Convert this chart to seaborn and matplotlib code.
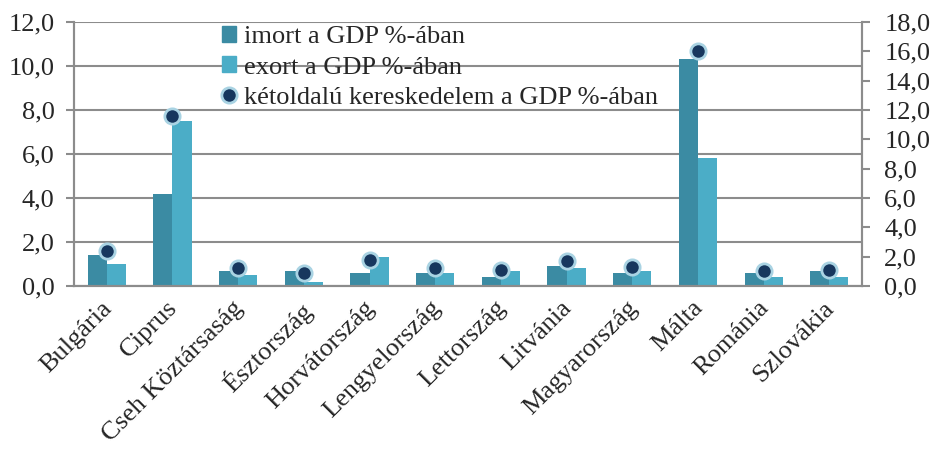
import numpy as np
import pandas as pd
from matplotlib import pyplot as plt
from matplotlib.ticker import FuncFormatter, FixedLocator
from matplotlib.transforms import ScaledTranslation
from matplotlib.lines import Line2D
from matplotlib.patches import Patch
import seaborn as sns

countries = ['Bulgária', 'Ciprus', 'Cseh Köztársaság', 'Észtország', 'Horvátország',
             'Lengyelország', 'Lettország', 'Litvánia', 'Magyarország', 'Málta',
             'Románia', 'Szlovákia']
import_gdp = [1.4, 4.2, 0.7, 0.7, 0.6, 0.6, 0.4, 0.9, 0.6, 10.3, 0.6, 0.7]
export_gdp = [1.0, 7.5, 0.5, 0.2, 1.3, 0.6, 0.7, 0.8, 0.7, 5.8, 0.4, 0.4]
bilateral_gdp = [2.4, 11.6, 1.2, 0.9, 1.8, 1.2, 1.1, 1.7, 1.3, 16.0, 1.0, 1.1]

lab_imp = 'imort a GDP %-ában'
lab_exp = 'exort a GDP %-ában'
lab_bil = 'kétoldalú kereskedelem a GDP %-ában'

c_imp = '#3B8BA3'
c_exp = '#4BADC7'
c_dot = '#17375E'
c_edge = '#A9D3E3'
c_grid = '#8C8C8C'

sns.set_style('white')
plt.rcParams['font.family'] = ['Liberation Serif', 'DejaVu Serif']

df = pd.DataFrame({
    'country': countries * 2,
    'value': import_gdp + export_gdp,
    'series': [lab_imp] * len(countries) + [lab_exp] * len(countries),
})

fig = plt.figure(figsize=(9.34, 4.51), dpi=100)
ax = fig.add_axes([0.0792, 0.366, 0.8438, 0.585])

sns.barplot(data=df, x='country', y='value', hue='series', ax=ax,
            palette=[c_imp, c_exp], width=0.58, saturation=1, legend=False,
            linewidth=0, zorder=2)
ax.set_ylim(0, 12)
ax.set_yticks(np.arange(0, 12.1, 2))
ax.yaxis.grid(True, color=c_grid, linewidth=1.5, zorder=0)
ax.set_axisbelow(True)

ax2 = ax.twinx()
sns.stripplot(x=countries, y=bilateral_gdp, ax=ax2, jitter=False, color=c_dot,
              size=11, linewidth=2, edgecolor=c_edge, zorder=5)
ax2.set_ylim(0, 18)
ax2.set_yticks(np.arange(0, 18.1, 2))
ax2.set_xlim(-0.5, len(countries) - 0.5)

fmt = FuncFormatter(lambda v, p: ('%.1f' % v).replace('.', ','))
ax.yaxis.set_major_formatter(fmt)
ax2.yaxis.set_major_formatter(fmt)

for a in (ax, ax2):
    for s in a.spines.values():
        s.set_color(c_grid)
        s.set_linewidth(1.5)
    a.spines['top'].set_visible(False)
    a.set_xlabel('')
    a.set_ylabel('')
    a.tick_params(axis='y', labelsize=19, length=6, width=1.5, color=c_grid, direction='out')

ax.tick_params(axis='y', pad=8)
ax2.tick_params(axis='y', pad=10)

ax.tick_params(axis='x', length=0, labelsize=19, pad=5)
ax.xaxis.set_minor_locator(FixedLocator(np.arange(-0.5, len(countries), 1.0)))
ax.tick_params(axis='x', which='minor', length=6, width=1.5, color=c_grid, direction='out')
ax.set_xticks(range(len(countries)))
ax.set_xticklabels(countries, rotation=45, ha='right', va='top', rotation_mode='anchor')
shift = ScaledTranslation(-0.06, -0.04, fig.dpi_scale_trans)
for lbl in ax.get_xticklabels():
    lbl.set_transform(lbl.get_transform() + shift)

handles = [Patch(color=c_imp), Patch(color=c_exp),
           Line2D([], [], linestyle='none', marker='o', markersize=11,
                  markerfacecolor=c_dot, markeredgecolor=c_edge, markeredgewidth=2)]
ax2.legend(handles, [lab_imp, lab_exp, lab_bil], loc='upper left',
           bbox_to_anchor=(0.174, 1.025), frameon=False, fontsize=19,
           handlelength=0.55, handleheight=0.55, handletextpad=0.3, labelspacing=0.3,
           borderaxespad=0)

fig.savefig('out.png', dpi=100)
